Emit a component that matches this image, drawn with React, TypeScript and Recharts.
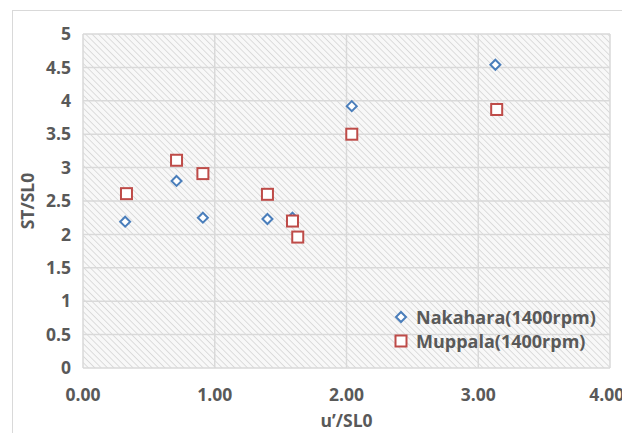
import React from "react";
import {
  ScatterChart,
  Scatter,
  XAxis,
  YAxis,
  CartesianGrid,
  Legend,
} from "recharts";

// Nakahara (1400 rpm)
const nakaharaX = [0.32, 0.71, 0.91, 1.4, 1.59, 2.04, 3.13];
const nakaharaY = [2.19, 2.8, 2.25, 2.23, 2.25, 3.92, 4.54];

// Muppala (1400 rpm)
const muppalaX = [0.33, 0.71, 0.91, 1.4, 1.59, 1.63, 2.04, 3.14];
const muppalaY = [2.61, 3.11, 2.91, 2.6, 2.2, 1.96, 3.5, 3.87];

const xTicks = [0, 1, 2, 3, 4];
const yTicks = [0, 0.5, 1, 1.5, 2, 2.5, 3, 3.5, 4, 4.5, 5];

const seriesNames = ["Nakahara(1400rpm)", "Muppala(1400rpm)"];
const BLUE = "#4a7ebb";
const RED = "#be4b48";
const TEXT = "#595959";
const FONT = "'Open Sans', 'Liberation Sans', sans-serif";

const nakahara = nakaharaX.map((x, i) => ({ x, y: nakaharaY[i] }));
const muppala = muppalaX.map((x, i) => ({ x, y: muppalaY[i] }));

const Diamond = (props: any) => {
  const { cx, cy } = props;
  if (cx == null || cy == null) return null;
  const r = 5;
  return (
    <path
      d={`M${cx},${cy - r}L${cx + r},${cy}L${cx},${cy + r}L${cx - r},${cy}Z`}
      fill="#ffffff"
      stroke={BLUE}
      strokeWidth={2}
    />
  );
};

const Square = (props: any) => {
  const { cx, cy } = props;
  if (cx == null || cy == null) return null;
  const h = 5.5;
  return (
    <rect
      x={cx - h}
      y={cy - h}
      width={h * 2}
      height={h * 2}
      fill="#ffffff"
      stroke={RED}
      strokeWidth={2}
    />
  );
};

const LegendBox = () => (
  <div
    style={{
      fontFamily: FONT,
      fontWeight: 700,
      fontSize: 18,
      color: TEXT,
      whiteSpace: "nowrap",
    }}
  >
    {seriesNames.map((name, i) => (
      <div
        key={name}
        style={{ display: "flex", alignItems: "center", height: 24 }}
      >
        <svg width={14} height={14} style={{ marginRight: 8, flex: "none" }}>
          {i === 0 ? (
            <path d="M7,2L12,7L7,12L2,7Z" fill="#fff" stroke={BLUE} strokeWidth={2} />
          ) : (
            <rect x={1.5} y={1.5} width={11} height={11} fill="#fff" stroke={RED} strokeWidth={2} />
          )}
        </svg>
        <span>{name}</span>
      </div>
    ))}
  </div>
);

const tickStyle = { fill: TEXT, fontSize: 17.5, fontWeight: 700, fontFamily: FONT };

export default function App() {
  return (
    <div
      style={{
        position: "absolute",
        left: 0,
        top: 0,
        width: 622,
        height: 433,
        overflow: "hidden",
        background: "#ffffff",
      }}
    >
      <div
        style={{
          position: "absolute",
          left: 12,
          top: 10,
          width: 700,
          height: 500,
          border: "1px solid #d9d9d9",
        }}
      />
      <div style={{ position: "absolute", left: 0, top: 0 }}>
        <ScatterChart
          width={622}
          height={433}
          margin={{ top: 34, right: 12, left: 0, bottom: 0 }}
        >
          <defs>
            <pattern
              id="hatch"
              width={4.5}
              height={4.5}
              patternUnits="userSpaceOnUse"
              patternTransform="rotate(-45)"
            >
              <rect width={4.5} height={4.5} fill="#f8f8f8" />
              <line x1={0} y1={0} x2={0} y2={4.5} stroke="#d3d3d3" strokeWidth={1.5} />
            </pattern>
          </defs>
          <CartesianGrid
            fill="url(#hatch)"
            stroke="#d9d9d9"
            strokeWidth={1.5}
            horizontalValues={yTicks}
            verticalValues={xTicks}
          />
          <XAxis
            type="number"
            dataKey="x"
            domain={[0, 4]}
            ticks={xTicks}
            tickFormatter={(v: number) => v.toFixed(2)}
            axisLine={false}
            tickLine={false}
            tickSize={0}
            tickMargin={21}
            height={65}
            tick={tickStyle}
            label={{
              value: "u’/SL0",
              position: "insideBottom",
              offset: 6,
              ...tickStyle,
            }}
          />
          <YAxis
            type="number"
            dataKey="y"
            domain={[0, 5]}
            ticks={yTicks}
            interval={0}
            axisLine={false}
            tickLine={false}
            tickSize={0}
            tickMargin={12}
            width={83}
            tick={tickStyle}
            label={{
              value: "ST/SL0",
              angle: -90,
              position: "insideLeft",
              offset: 28,
              style: { textAnchor: "middle" },
              ...tickStyle,
            }}
          />
          <Legend
            layout="horizontal"
            align="center"
            verticalAlign="middle"
            content={<LegendBox />}
            wrapperStyle={{ left: 394, top: 305, width: 225 }}
          />
          <Scatter
            name={seriesNames[0]}
            data={nakahara}
            shape={<Diamond />}
            isAnimationActive={false}
          />
          <Scatter
            name={seriesNames[1]}
            data={muppala}
            shape={<Square />}
            isAnimationActive={false}
          />
        </ScatterChart>
      </div>
    </div>
  );
}
